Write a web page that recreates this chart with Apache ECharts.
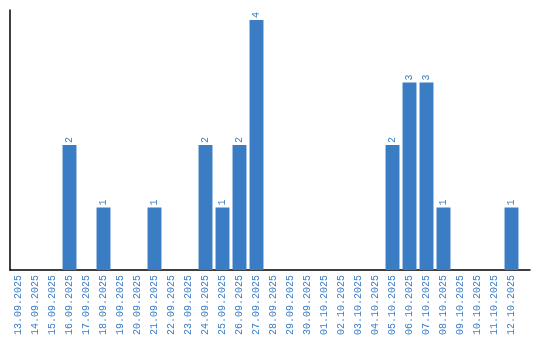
<!DOCTYPE html>
<html><head><meta charset="utf-8">
<script src="https://cdn.jsdelivr.net/npm/echarts@6/dist/echarts.min.js"></script>
<style>html,body{margin:0;padding:0;background:#fff}#c{width:540px;height:340px}</style>
</head><body><div id="c"></div>
<script>
const categories = ["13.09.2025","14.09.2025","15.09.2025","16.09.2025","17.09.2025","18.09.2025","19.09.2025","20.09.2025","21.09.2025","22.09.2025","23.09.2025","24.09.2025","25.09.2025","26.09.2025","27.09.2025","28.09.2025","29.09.2025","30.09.2025","01.10.2025","02.10.2025","03.10.2025","04.10.2025","05.10.2025","06.10.2025","07.10.2025","08.10.2025","09.10.2025","10.10.2025","11.10.2025","12.10.2025"];
const values = [0,0,0,2,0,1,0,0,1,0,0,2,1,2,4,0,0,0,0,0,0,0,2,3,3,1,0,0,0,1];
const color = '#3b7dc4';
const font = 'Liberation Mono';
const chart = echarts.init(document.getElementById('c'), null, {renderer:'canvas'});
chart.setOption({
  animation:false,
  grid:[{left:10,right:20,top:10,bottom:70},{left:10,right:10,top:10,bottom:70}],
  xAxis:[{type:'category',data:categories,gridIndex:0,
    axisLine:{show:false},
    axisTick:{show:false},
    axisLabel:{rotate:90,interval:0,color:color,fontFamily:font,fontSize:10,margin:5}},
    {type:'value',gridIndex:1,min:0,max:1,
    axisLine:{show:true,onZero:false,lineStyle:{color:'#000',width:1.5}},
    axisTick:{show:false},axisLabel:{show:false},splitLine:{show:false}}],
  yAxis:[{type:'value',gridIndex:0,min:0,max:4.16,
    axisLine:{show:true,lineStyle:{color:'#000',width:1.5}},
    axisTick:{show:false},axisLabel:{show:false},splitLine:{show:false}},
    {type:'value',gridIndex:1,min:0,max:1,show:false}],
  series:[{type:'bar',data:values.map(v=>v===0?null:v),barCategoryGap:'18%',
    xAxisIndex:0,yAxisIndex:0,
    itemStyle:{color:color},
    label:{show:true,position:'top',rotate:90,align:'left',verticalAlign:'middle',distance:2,
      color:color,fontFamily:font,fontSize:10}}]
});
</script></body></html>
